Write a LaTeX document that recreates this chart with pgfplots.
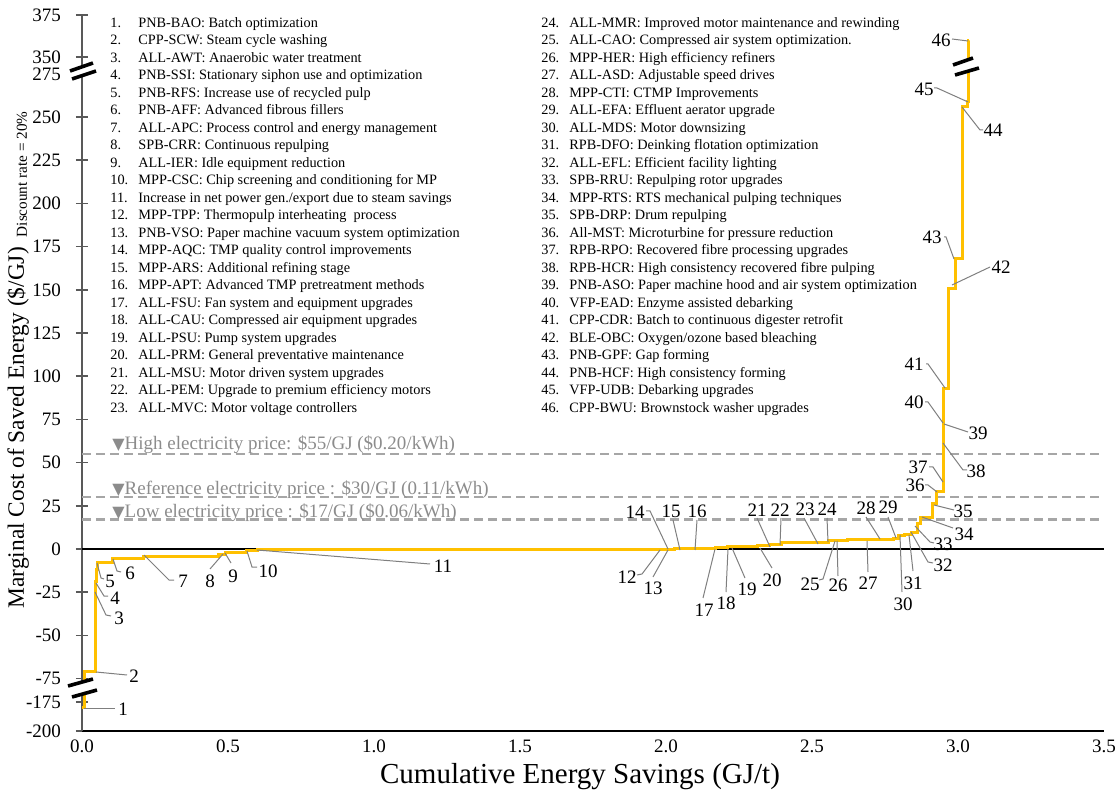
\documentclass[border=0pt]{standalone}
\usepackage{fontspec}
\setmainfont{Liberation Serif}
\newfontfamily\dejavu{DejaVu Sans}
\usepackage{pgfplots}
\pgfplotsset{compat=1.18}
\usepackage{pgfplotstable}
\definecolor{curvecol}{HTML}{FFC000}
\definecolor{priceline}{HTML}{A6A6A6}
\definecolor{pricetext}{HTML}{8C8C8C}
\definecolor{leadcol}{HTML}{7F7F7F}

% x = cumulative savings (GJ/t) at left edge of each step, cost = marginal cost ($/GJ),
% ym = plotted position on the broken y axis (equal to cost between -75 and 275)
\pgfplotstableread{
x       cost    ym
0.000   -180    -91.9
0.007   -71     -71
0.047   -19     -19
0.049   -12     -12
0.052   -8      -8
0.106   -5.5    -5.5
0.212   -4.2    -4.2
0.466   -3      -3
0.490   -2      -2
0.565   -1      -1
0.600   -0.3    -0.3
1.970   -0.2    -0.2
1.990   0       0
2.007   0       0
2.030   0.1     0.1
2.070   0.2     0.2
2.168   0.6     0.6
2.212   1.3     1.3
2.225   1.4     1.4
2.315   2.1     2.1
2.356   2.7     2.7
2.397   3.5     3.5
2.521   4.0     4.0
2.555   5.0     5.0
2.579   5.0     5.0
2.586   5.2     5.2
2.620   5.3     5.3
2.740   5.6     5.6
2.780   6.0     6.0
2.795   7.8     7.8
2.818   8.3     8.3
2.842   9.8     9.8
2.860   15      15
2.870   18.5    18.5
2.914   26.6    26.6
2.928   33      33
2.9490  39      39
2.9492  61      61
2.9494  73      73
2.9496  75      75
2.9498  93      93
2.969   151     151
2.990   168     168
3.014   256     256
3.034   259     259
3.0345  360     294.4
3.035   360     294.4
}\curvedata

\tikzset{
  leader/.style={draw=leadcol, line width=0.5pt},
  lab/.style={font=\fontsize{9.5}{11}\selectfont, inner sep=0pt},
  lst/.style={anchor=base west, inner sep=0pt, font=\fontsize{7.15}{8.75}\selectfont},
  ptx/.style={anchor=west, inner sep=0pt, text=pricetext, font=\fontsize{9.5}{11}\selectfont},
}
\newcommand{\an}[5]{\draw[leader] (#1) -- (#2) -- (#3); \node[lab] at (#4) {#5};}
\newcommand{\li}[4]{\node[lst] at (#1,{27.5+17.5*#2}) {#3.}; \node[lst] at ({#1+28},{27.5+17.5*#2}) {#4};}
\newcommand{\tri}{{\dejavu\fontsize{8}{9}\selectfont ▼}}

\begin{document}
\begin{tikzpicture}
\begin{axis}[
  name=ax, at={(0,0)}, anchor=south west,
  width=511pt, height=358pt, scale only axis,
  xmin=0, xmax=3.5, ymin=-105.32, ymax=309.03,
  axis x line*=bottom, axis y line*=left,
  x axis line style={black, line width=0.8pt},
  y axis line style={black!65, line width=0.8pt},
  xtick={0,0.5,1,1.5,2,2.5,3,3.5},
  xticklabels={0.0,0.5,1.0,1.5,2.0,2.5,3.0,3.5},
  ytick={-105.32,-88.5,-75,-50,-25,0,25,50,75,100,125,150,175,200,225,250,275,284.7,309.03},
  yticklabels={-200,-175,-75,-50,-25,0,25,50,75,100,125,150,175,200,225,250,275,350,375},
  tick align=center, major tick length=6pt,
  xtick style={draw=none},
  ytick style={black!65, line width=0.8pt},
  ticklabel style={font=\fontsize{9.5}{11}\selectfont},
  yticklabel style={xshift=-4pt},
  xticklabel style={yshift=2pt},
  clip=false,
]
\addplot[priceline, line width=1.3pt, dash pattern=on 4.5pt off 2.5pt, forget plot] coordinates {(0,55) (3.5,55)};
\addplot[priceline, line width=1.3pt, dash pattern=on 4.5pt off 2.5pt, forget plot] coordinates {(0,30) (3.5,30)};
\addplot[priceline, line width=1.3pt, dash pattern=on 4.5pt off 2.5pt, forget plot] coordinates {(0,17) (3.5,17)};
\addplot[black, line width=0.8pt, forget plot] coordinates {(0,0) (3.5,0)};
\addplot[const plot, curvecol, line width=1.5pt, mark=none] table[x=x, y=ym] {\curvedata};
\end{axis}

\begin{scope}[shift={(ax.south west)}, shift={(-41pt,365.5pt)}, x=0.5pt, y=-0.5pt]
% axis breaks
\fill[white] (70,71) -- (93,63) -- (96,71) -- (72,79) -- cycle;
\draw[black, line width=1.8pt] (70,71) -- (93,63);
\draw[black, line width=1.8pt] (72,79) -- (96,71);
\fill[white] (68,686) -- (93,679) -- (97,690) -- (72,697) -- cycle;
\draw[black, line width=1.8pt] (68,686) -- (93,679);
\draw[black, line width=1.8pt] (72,697) -- (97,690);
\fill[white] (953,65) -- (973,58) -- (979,68) -- (955,75) -- cycle;
\draw[black, line width=1.8pt] (953,65) -- (973,58);
\draw[black, line width=1.8pt] (955,75) -- (979,68);

% price labels
\node[ptx] at (112,445) {\tri High electricity price: \$55/GJ (\$0.20/kWh)};
\node[ptx] at (112,490) {\tri Reference electricity price : \$30/GJ (0.11/kWh)};
\node[ptx] at (112,513) {\tri Low electricity price : \$17/GJ (\$0.06/kWh)};

% axis titles
\node[rotate=90] at (18,360) {\fontsize{11.7}{13}\selectfont Marginal Cost of Saved Energy (\$/GJ)\hspace{5pt}\raisebox{-1.5pt}{\fontsize{7.6}{9}\selectfont Discount rate = 20\%}};
\node at (580,777) {\fontsize{14.5}{16}\selectfont Cumulative Energy Savings (GJ/t)};

% callouts
\an{84,708}{115,708}{115,708}{123,709}{1}
\an{96,672}{127,675}{127,675}{134,676}{2}
\an{95,592}{106,615}{111,616}{119,618}{3}
\an{96,583}{104,596}{108,596}{115,598}{4}
\an{97,563}{101,578}{104,579}{110,581}{5}
\an{113,559}{117,571}{121,572}{130,573}{6}
\an{144,555}{169,580}{174,580}{183,581}{7}
\an{223,554}{210,569}{210,569}{210,581}{8}
\an{225,553}{231,563}{231,563}{233,576}{9}
\an{247,551}{252,567}{257,567}{268,571}{10}
\an{257,550}{430,564}{430,564}{443,566}{11}
\an{660,550}{642,574}{637,575}{627,577}{12}
\an{668,550}{653,577}{653,577}{653,588}{13}
\an{668,549}{650,511}{646,511}{635,512}{14}
\an{680,550}{673,520}{673,520}{671,511}{15}
\an{695,550}{697,520}{697,520}{697,511}{16}
\an{715,549}{703,598}{703,598}{704,610}{17}
\an{728,549}{726,592}{726,592}{726,603}{18}
\an{732,548}{745,578}{745,578}{747,589}{19}
\an{760,548}{772,568}{772,568}{772,580}{20}
\an{770,547}{757,518}{757,518}{757,510}{21}
\an{780,545}{781,518}{781,518}{780,510}{22}
\an{818,544}{804,518}{804,518}{805,509}{23}
\an{828,542}{827,518}{827,518}{827,509}{24}
\an{835,541}{823,579}{819,580}{810,584}{25}
\an{837,541}{838,576}{838,576}{838,585}{26}
\an{867,541}{868,572}{868,572}{868,583}{27}
\an{880,539}{866,517}{866,517}{866,508}{28}
\an{896,538}{888,517}{888,517}{888,507}{29}
\an{900,535}{902,592}{902,592}{903,604}{30}
\an{909,535}{913,571}{913,571}{913,583}{31}
\an{911,532}{928,562}{933,563}{943,565}{32}
\an{915,526}{930,542}{934,543}{943,544}{33}
\an{922,517}{953,528}{953,528}{964,534}{34}
\an{934,505}{950,509}{954,510}{963,511}{35}
\an{937,492}{928,485}{925,485}{915,485}{36}
\an{943,482}{933,467}{929,467}{918,467}{37}
\an{943,443}{963,470}{967,470}{976,471}{38}
\an{944,424}{968,432}{968,432}{978,433}{39}
\an{943,423}{928,402}{925,402}{914,402}{40}
\an{945,388}{928,364}{926,364}{914,364}{41}
\an{952,285}{990,267}{990,267}{1001,267}{42}
\an{954,259}{946,237}{944,237}{932,237}{43}
\an{962,107}{980,130}{983,130}{993,130}{44}
\an{968,102}{937,88}{934,88}{924,89}{45}
\an{968,41}{952,39}{952,39}{941,40}{46}

% list of measures
\li{110}{0}{1}{PNB-BAO: Batch optimization}
\li{110}{1}{2}{CPP-SCW: Steam cycle washing}
\li{110}{2}{3}{ALL-AWT: Anaerobic water treatment}
\li{110}{3}{4}{PNB-SSI: Stationary siphon use and optimization}
\li{110}{4}{5}{PNB-RFS: Increase use of recycled pulp}
\li{110}{5}{6}{PNB-AFF: Advanced fibrous fillers}
\li{110}{6}{7}{ALL-APC: Process control and energy management}
\li{110}{7}{8}{SPB-CRR: Continuous repulping}
\li{110}{8}{9}{ALL-IER: Idle equipment reduction}
\li{110}{9}{10}{MPP-CSC: Chip screening and conditioning for MP}
\li{110}{10}{11}{Increase in net power gen./export due to steam savings}
\li{110}{11}{12}{MPP-TPP: Thermopulp interheating\ \ process}
\li{110}{12}{13}{PNB-VSO: Paper machine vacuum system optimization}
\li{110}{13}{14}{MPP-AQC: TMP quality control improvements}
\li{110}{14}{15}{MPP-ARS: Additional refining stage}
\li{110}{15}{16}{MPP-APT: Advanced TMP pretreatment methods}
\li{110}{16}{17}{ALL-FSU: Fan system and equipment upgrades}
\li{110}{17}{18}{ALL-CAU: Compressed air equipment upgrades}
\li{110}{18}{19}{ALL-PSU: Pump system upgrades}
\li{110}{19}{20}{ALL-PRM: General preventative maintenance}
\li{110}{20}{21}{ALL-MSU: Motor driven system upgrades}
\li{110}{21}{22}{ALL-PEM: Upgrade to premium efficiency motors}
\li{110}{22}{23}{ALL-MVC: Motor voltage controllers}
\li{541}{0}{24}{ALL-MMR: Improved motor maintenance and rewinding}
\li{541}{1}{25}{ALL-CAO: Compressed air system optimization.}
\li{541}{2}{26}{MPP-HER: High efficiency refiners}
\li{541}{3}{27}{ALL-ASD: Adjustable speed drives}
\li{541}{4}{28}{MPP-CTI: CTMP Improvements}
\li{541}{5}{29}{ALL-EFA: Effluent aerator upgrade}
\li{541}{6}{30}{ALL-MDS: Motor downsizing}
\li{541}{7}{31}{RPB-DFO: Deinking flotation optimization}
\li{541}{8}{32}{ALL-EFL: Efficient facility lighting}
\li{541}{9}{33}{SPB-RRU: Repulping rotor upgrades}
\li{541}{10}{34}{MPP-RTS: RTS mechanical pulping techniques}
\li{541}{11}{35}{SPB-DRP: Drum repulping}
\li{541}{12}{36}{All-MST: Microturbine for pressure reduction}
\li{541}{13}{37}{RPB-RPO: Recovered fibre processing upgrades}
\li{541}{14}{38}{RPB-HCR: High consistency recovered fibre pulping}
\li{541}{15}{39}{PNB-ASO: Paper machine hood and air system optimization}
\li{541}{16}{40}{VFP-EAD: Enzyme assisted debarking}
\li{541}{17}{41}{CPP-CDR: Batch to continuous digester retrofit}
\li{541}{18}{42}{BLE-OBC: Oxygen/ozone based bleaching}
\li{541}{19}{43}{PNB-GPF: Gap forming}
\li{541}{20}{44}{PNB-HCF: High consistency forming}
\li{541}{21}{45}{VFP-UDB: Debarking upgrades}
\li{541}{22}{46}{CPP-BWU: Brownstock washer upgrades}

\pgfresetboundingbox
\path[use as bounding box] (0,0) rectangle (1118,793);
\end{scope}
\end{tikzpicture}
\end{document}
